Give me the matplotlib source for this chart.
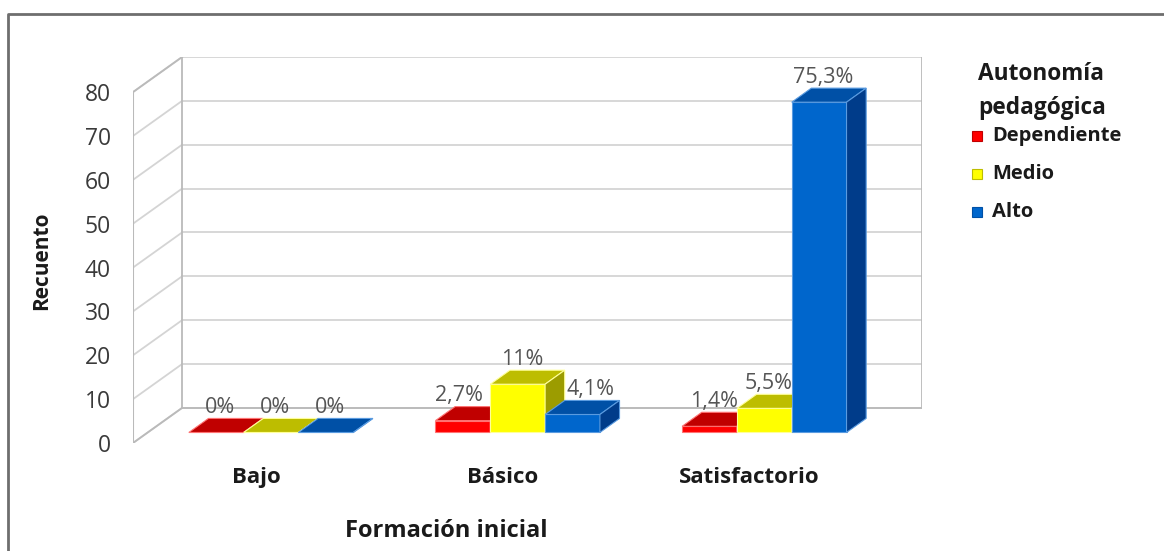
import matplotlib
matplotlib.use('Agg')
import matplotlib.pyplot as plt
from matplotlib.patches import Polygon, Rectangle
from matplotlib.lines import Line2D

# ---------------- data ----------------
categories = ['Bajo', 'Básico', 'Satisfactorio']
series_names = ['Dependiente', 'Medio', 'Alto']
dependiente = [0.0, 2.7, 1.4]
medio = [0.0, 11.0, 5.5]
alto = [0.0, 4.1, 75.3]
labels_dependiente = ['0%', '2,7%', '1,4%']
labels_medio = ['0%', '11%', '5,5%']
labels_alto = ['0%', '4,1%', '75,3%']
yticks = [0, 10, 20, 30, 40, 50, 60, 70, 80]
legend_title = 'Autonomía\npedagógica'
x_title = 'Formación inicial'
y_title = 'Recuento'

# ---------------- style ----------------
FONT = 'Open Sans'
plt.rcParams['font.family'] = [FONT, 'DejaVu Sans']

front_cols = ['#FF0000', '#FFFF00', '#0066CC']
top_cols = ['#C00000', '#BDBD00', '#0050A6']
side_cols = ['#9A0000', '#9C9C00', '#003C8A']
edge_cols = ['#FF7373', '#FFFF99', '#5A9BE0']
# small horizontal nudges (pixels) of data labels to avoid overlaps: (series, category)
label_nudge = {(0, 1): -8, (2, 1): 14}

W, H = 1164, 551
fig = plt.figure(figsize=(W / 100, H / 100), dpi=100)
fig.patch.set_facecolor('white')

L, R, B, T = 133, 922, 443, 57
ax = fig.add_axes([L / W, 1 - B / H, (R - L) / W, (B - T) / H])
DX, DY = 0.199, 8.0          # oblique depth vector (data units)
F0, F1 = 0.30, 0.70          # bar depth band
ncat = len(categories)
ymax = yticks[-1]
ax.set_xlim(0, ncat + DX)
ax.set_ylim(0, ymax + DY)
for s in ax.spines.values():
    s.set_visible(False)
ax.set_facecolor('none')

# ---------------- walls ----------------
grid_c = '#D4D4D4'
edge_c = '#BABABA'
for v in yticks:
    ax.plot([DX, ncat + DX], [v + DY, v + DY], color=grid_c, lw=1.3, zorder=1)
    ax.plot([0, DX], [v, v + DY], color=grid_c, lw=1.3, zorder=1)
ax.plot([0, 0], [0, ymax], color=edge_c, lw=1.5, zorder=1)
ax.plot([0, DX], [ymax, ymax + DY], color=edge_c, lw=1.3, zorder=1)
ax.plot([0, DX], [0, DY], color=edge_c, lw=1.3, zorder=1)
ax.plot([DX, DX], [DY, ymax + DY], color=edge_c, lw=1.3, zorder=1)
ax.plot([ncat + DX, ncat + DX], [DY, ymax + DY], color=edge_c, lw=1.3, zorder=1)
ax.plot([DX, ncat + DX], [DY, DY], color=edge_c, lw=1.3, zorder=1)

# ---------------- bars ----------------
series_vals = [dependiente, medio, alto]
series_labels = [labels_dependiente, labels_medio, labels_alto]
bw = 1.0 / (len(series_vals) * 1.5)
gap = (1 - len(series_vals) * bw) / 2
dd = F1 - F0
z = 3
for i in range(ncat):
    for j, vals in enumerate(series_vals):
        v = vals[i]
        x0 = i + gap + j * bw + F0 * DX
        y0 = F0 * DY
        ax.bar(x0, v, bw, bottom=y0, align='edge', color=front_cols[j],
               edgecolor=edge_cols[j], linewidth=0.8, zorder=z)
        top = [(x0, y0 + v), (x0 + bw, y0 + v),
               (x0 + bw + dd * DX, y0 + v + dd * DY), (x0 + dd * DX, y0 + v + dd * DY)]
        side = [(x0 + bw, y0), (x0 + bw, y0 + v),
                (x0 + bw + dd * DX, y0 + v + dd * DY), (x0 + bw + dd * DX, y0 + dd * DY)]
        ax.add_patch(Polygon(top, closed=True, facecolor=top_cols[j],
                             edgecolor=edge_cols[j], linewidth=0.8, zorder=z + 0.1))
        ax.add_patch(Polygon(side, closed=True, facecolor=side_cols[j],
                             edgecolor=edge_cols[j], linewidth=0.8, zorder=z + 0.2))
        z += 1
        nud = label_nudge.get((j, i), 0) * 0.72
        ax.annotate(series_labels[j][i],
                    xy=(x0 + bw / 2 + dd / 2 * DX, y0 + v + dd / 2 * DY),
                    xytext=(-4 + nud, 13), textcoords='offset points',
                    ha='center', va='center', fontsize=15.5, color='#555555',
                    zorder=50, annotation_clip=False)

# ---------------- axes ticks ----------------
ax.set_yticks(yticks)
ax.set_yticklabels([str(t) for t in yticks], fontsize=16.5, color='#3a3a3a')
ax.tick_params(axis='y', length=0, pad=16)
ax.set_xticks([i + 0.5 for i in range(ncat)])
ax.set_xticklabels(categories, fontsize=16, fontweight='bold', color='#1a1a1a')
ax.tick_params(axis='x', length=0, pad=17)

# ---------------- titles ----------------
fig.text(42 / W, 1 - 261 / H, y_title, rotation=90, ha='center', va='center',
         fontsize=15, fontweight='bold', color='#1a1a1a')
fig.text(446 / W, 1 - 531 / H, x_title, ha='center', va='center',
         fontsize=17, fontweight='bold', color='#1a1a1a')

# ---------------- legend ----------------
fig.text(978 / W, 1 - 91 / H, legend_title, ha='left', va='center',
         fontsize=16.3, fontweight='bold', color='#1a1a1a', linespacing=1.5)
for k, name in enumerate(series_names):
    yc = 136 + 38 * k
    fig.add_artist(Rectangle((972 / W, 1 - (yc + 5) / H), 10 / W, 10 / H,
                             transform=fig.transFigure, facecolor=front_cols[k],
                             edgecolor=top_cols[k], linewidth=0.8))
    fig.text(992 / W, 1 - yc / H, name, ha='left', va='center',
             fontsize=14.5, fontweight='bold', color='#1a1a1a')

# ---------------- outer frame ----------------
fig.add_artist(Line2D([8 / W, 8 / W, 1.0], [0.0, 1 - 14 / H, 1 - 14 / H],
                      transform=fig.transFigure, color='#6E6E6E', lw=2))

fig.savefig('out.png', dpi=100)
